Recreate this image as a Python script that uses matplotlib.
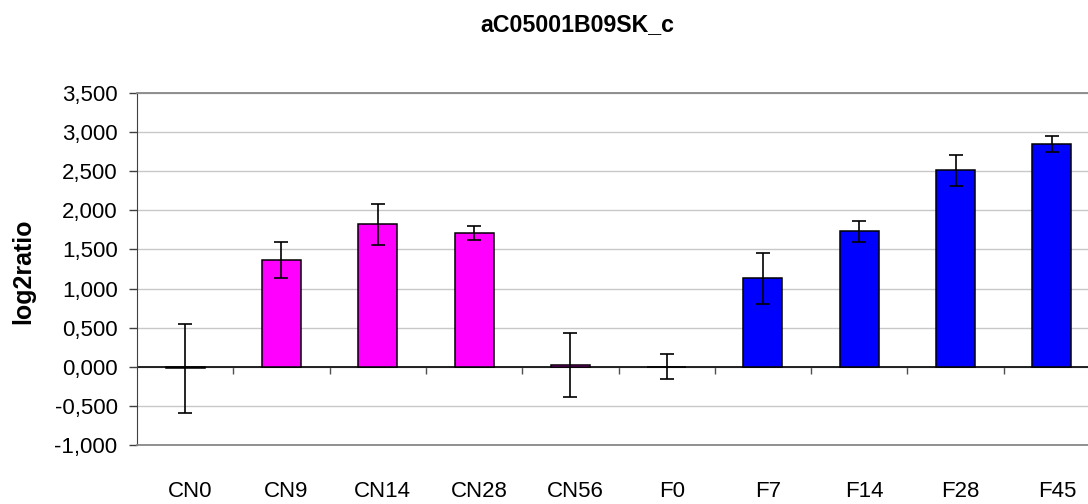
import matplotlib
matplotlib.use("Agg")
import matplotlib.pyplot as plt
import matplotlib.transforms as mtransforms
import numpy as np
from matplotlib.ticker import FuncFormatter, MultipleLocator

plt.rcParams['font.family'] = ['Liberation Sans', 'DejaVu Sans']

categories = ["CN0", "CN9", "CN14", "CN28", "CN56", "F0", "F7", "F14", "F28", "F45"]
values = [-0.02, 1.37, 1.82, 1.71, 0.02, 0.0, 1.13, 1.73, 2.51, 2.85]
errors = [0.57, 0.23, 0.26, 0.09, 0.41, 0.16, 0.33, 0.14, 0.20, 0.10]
colors = ["#FF00FF"] * 5 + ["#0000FF"] * 5

W, H = 1088, 504
fig = plt.figure(figsize=(W / 100, H / 100), dpi=100)
# plot area runs a little past the right edge of the figure
ax = fig.add_axes([137 / W, 1 - 445 / H, 963 / W, 352 / H])

x = np.arange(len(categories))
ax.bar(x, values, width=0.405, color=colors, edgecolor="black", linewidth=1.1, zorder=3)
ax.errorbar(x, values, yerr=errors, fmt="none", ecolor="black", elinewidth=1.2,
            capsize=5, capthick=1.2, zorder=4)

ax.set_xlim(-0.5, len(categories) - 0.5)
ax.set_ylim(-1.0, 3.5)
ax.yaxis.set_major_locator(MultipleLocator(0.5))
ax.yaxis.set_major_formatter(FuncFormatter(lambda v, p: f"{v:.3f}".replace(".", ",")))
ax.grid(axis="y", color="#c8c8c8", linewidth=1.0, zorder=0)
ax.set_axisbelow(True)

# category labels under the plot area, no tick marks there
ax.set_xticks(x)
ax.set_xticklabels(categories)
ax.tick_params(axis="x", length=0, pad=26, labelsize=16)
shift = mtransforms.ScaledTranslation(5 / 100, 0, fig.dpi_scale_trans)
for lbl in ax.get_xticklabels():
    lbl.set_transform(lbl.get_transform() + shift)
ax.tick_params(axis="y", direction="out", length=6, width=1, pad=8,
               labelsize=16, color="#404040")

ax.spines["right"].set_visible(False)
ax.spines["left"].set_color("#404040")
for side in ("top", "bottom"):
    ax.spines[side].set_color("#888888")
    ax.spines[side].set_linewidth(1.3)

# category axis through zero, with separators between the groups
ax.axhline(0, color="black", linewidth=1.2, zorder=2)
y0, y1 = ax.get_ylim()
sec = ax.secondary_xaxis((0 - y0) / (y1 - y0))
sec.set_xticks(np.arange(len(categories) - 1) + 0.5)
sec.tick_params(direction="out", length=5, width=1, labelbottom=False, labeltop=False,
                bottom=True, top=False, color="#505050")
sec.spines["bottom"].set_visible(False)
sec.spines["top"].set_visible(False)

fig.text(23 / W, 1 - 271 / H, "log2ratio", rotation=90, ha="center", va="center",
         fontsize=18, fontweight="bold")
fig.text(577.5 / W, 1 - 31 / H, "aC05001B09SK_c", ha="center", va="baseline",
         fontsize=16.7, fontweight="bold")

fig.savefig("out.png", dpi=100)
